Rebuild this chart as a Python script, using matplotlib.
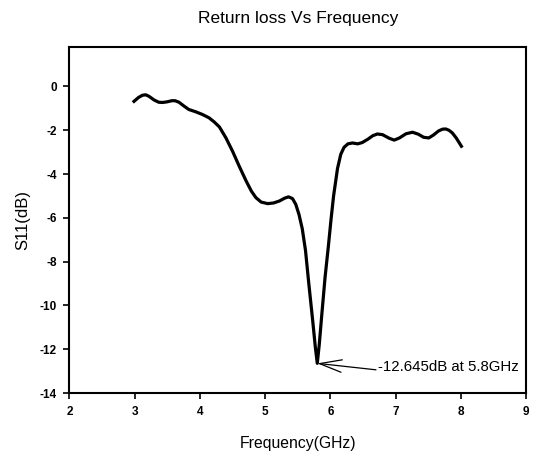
import matplotlib
matplotlib.use('Agg')
import matplotlib.pyplot as plt

# Отримані з графіка значення (частота, ГГц / S11, дБ)
freq = [2.99, 3.06, 3.12, 3.17, 3.22, 3.30, 3.37, 3.43, 3.50, 3.57, 3.62, 3.68,
        3.75, 3.83, 3.94, 4.04, 4.14, 4.22, 4.30, 4.40, 4.50, 4.60, 4.71, 4.79,
        4.86, 4.94, 5.04, 5.13, 5.22, 5.30, 5.36, 5.42, 5.47, 5.52, 5.57, 5.62,
        5.67, 5.73, 5.77, 5.80, 5.83, 5.87, 5.92, 5.97, 6.01, 6.05, 6.11, 6.16,
        6.21, 6.27, 6.34, 6.42, 6.49, 6.58, 6.65, 6.72, 6.80, 6.90, 6.98, 7.06,
        7.16, 7.26, 7.35, 7.43, 7.51, 7.58, 7.66, 7.72, 7.77, 7.82, 7.87, 7.93,
        8.01]
s11 = [-0.68, -0.50, -0.40, -0.38, -0.45, -0.62, -0.72, -0.73, -0.70, -0.65,
       -0.65, -0.72, -0.88, -1.05, -1.16, -1.28, -1.43, -1.62, -1.85, -2.35,
       -2.95, -3.62, -4.32, -4.78, -5.08, -5.28, -5.35, -5.32, -5.23, -5.10,
       -5.04, -5.12, -5.38, -5.85, -6.50, -7.50, -9.00, -10.70, -11.90, -12.645,
       -11.80, -10.40, -8.70, -7.30, -6.10, -5.00, -3.75, -3.10, -2.78, -2.62,
       -2.58, -2.62, -2.56, -2.40, -2.25, -2.17, -2.20, -2.36, -2.45, -2.35,
       -2.16, -2.09, -2.18, -2.32, -2.35, -2.22, -2.03, -1.95, -1.94, -2.00,
       -2.12, -2.35, -2.73]

min_freq = 5.8
min_s11 = -12.645
label = '-12.645dB at 5.8GHz'

plt.rcParams['font.family'] = ['Liberation Sans', 'DejaVu Sans']
plt.rcParams['axes.unicode_minus'] = False

fig = plt.figure(figsize=(5.34, 4.57), dpi=100)
ax = fig.add_axes([0.130, 0.140, 0.855, 0.757])

ax.plot(freq, s11, color='black', linewidth=2.3, solid_joinstyle='round')

# Стрілка на мінімум і підпис
ax.annotate('', xy=(min_freq, min_s11), xytext=(6.70, -12.94),
            arrowprops=dict(arrowstyle='->,head_length=1.6,head_width=0.45',
                            color='black', lw=0.9, shrinkA=0, shrinkB=0))
ax.text(6.73, -12.82, label, fontsize=10.8, ha='left', va='center')

ax.set_xlim(2, 9)
ax.set_ylim(-14, 1.8)
ax.set_xticks(range(2, 10))
ax.set_yticks(range(-14, 1, 2))
ax.tick_params(direction='out', length=4, width=1.2, labelsize=8.5, pad=5)
for lbl in ax.get_xticklabels() + ax.get_yticklabels():
    lbl.set_fontweight('bold')
for sp in ax.spines.values():
    sp.set_linewidth(1.5)

ax.set_xlabel('Frequency(GHz)', fontsize=11.3, labelpad=13)
ax.set_ylabel('S11(dB)', fontsize=12, labelpad=7)
fig.text(0.558, 0.96, 'Return loss Vs Frequency', fontsize=12.5,
         ha='center', va='center')

fig.savefig('out.png', dpi=100)
